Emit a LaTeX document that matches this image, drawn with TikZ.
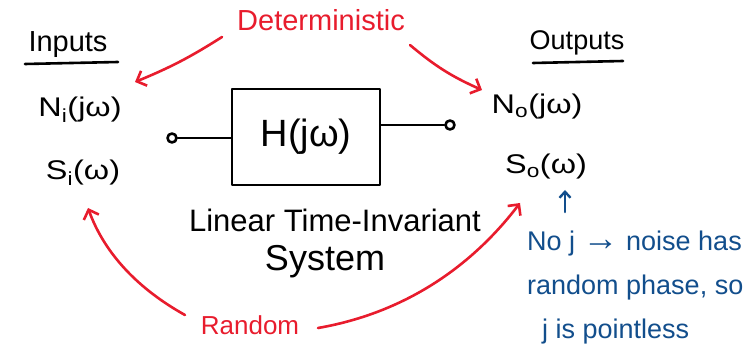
\documentclass[tikz,border=0pt]{standalone}
\usepackage{fontspec}
\setmainfont{Liberation Sans}
\usetikzlibrary{arrows.meta}
\definecolor{pred}{RGB}{232,28,45}
\definecolor{pblue}{RGB}{18,78,140}
\begin{document}
\begin{tikzpicture}[x=1pt,y=-1pt,
  lbl/.style={inner sep=0pt, font=\fontsize{27}{30}\selectfont},
  big/.style={inner sep=0pt, font=\fontsize{31}{34}\selectfont},
  redtxt/.style={inner sep=0pt, text=pred},
  bluetxt/.style={inner sep=0pt, text=pblue, font=\fontsize{27}{30}\selectfont},
  ink/.style={line width=2.6pt, line cap=round, line join=round},
  redarr/.style={ink, draw=pred, -{Straight Barb[length=8pt,width=16pt,line width=2.6pt]}},
  bluearr/.style={ink, draw=pblue, -{Straight Barb[length=6pt,width=11pt,line width=2.4pt]}},
  term/.style={circle, draw, ink, minimum size=9pt, inner sep=0pt}]
\useasboundingbox (0,0) rectangle (753,358);

% headings
\node[lbl, font=\fontsize{29}{32}\selectfont] (inputs) at (68,45) {Inputs};
\draw[ink] (25,64) -- (118,62);
\node[lbl, font=\fontsize{27}{30}\selectfont] (outputs) at (577,43) {Outputs};
\draw[ink] (533,63) -- (623,61);

% labels
\node[lbl, xscale=1.2] (Ni) at (80,110) {N\textsubscript{i}(jω)};
\node[lbl, xscale=1.2] (Si) at (83,173) {S\textsubscript{i}(ω)};
\node[lbl, xscale=1.2] (No) at (537,107) {N\textsubscript{o}(jω)};
\node[lbl, xscale=1.2] (So) at (546,167) {S\textsubscript{o}(ω)};

% system block
\node[draw, ink, minimum width=148pt, minimum height=96pt, inner sep=0pt,
      font=\fontsize{38}{42}\selectfont] (box) at (306,137) {H(jω)};
\node[term] (inT) at (172,138) {};
\node[term] (outT) at (450,125) {};
\draw[ink] (inT) -- (box.west |- inT);
\draw[ink] (box.east |- outT) -- (outT);

\node[big] (lti) at (335,220) {Linear Time-Invariant};
\node[big, font=\fontsize{36}{40}\selectfont] (sys) at (325,262) {System};

% deterministic / random
\node[redtxt, font=\fontsize{29}{32}\selectfont] (det) at (321,20) {Deterministic};
\node[redtxt, font=\fontsize{26}{30}\selectfont] (rnd) at (250,325) {Random};

\coordinate (dlS) at (222,37);
\coordinate (dlT) at (135,82);
\coordinate (drS) at (410,45);
\coordinate (drT) at (482,90);
\coordinate (rlS) at (185,315);
\coordinate (rlT) at (88,208);
\coordinate (rrS) at (318,328);
\coordinate (rrT) at (520,203);

\draw[redarr] (dlS) to[bend left=5] (dlT);
\draw[redarr] (drS) to[bend right=8] (drT);
\draw[redarr] (rlS) .. controls (140,290) and (105,255) .. (rlT);
\draw[redarr] (rrS) .. controls (410,312) and (475,262) .. (rrT);

% note
\node[bluetxt, anchor=west] (n1) at (527,244) {No j {\fontsize{36}{30}\selectfont →} noise has};
\node[bluetxt, anchor=west] (n2) at (527,288) {random phase, so};
\node[bluetxt, anchor=west] (n3) at (542,332) {j is pointless};
\coordinate (bS) at (565,212);
\coordinate (bT) at (565,190);
\draw[bluearr] (bS) -- (bT);
\end{tikzpicture}
\end{document}
